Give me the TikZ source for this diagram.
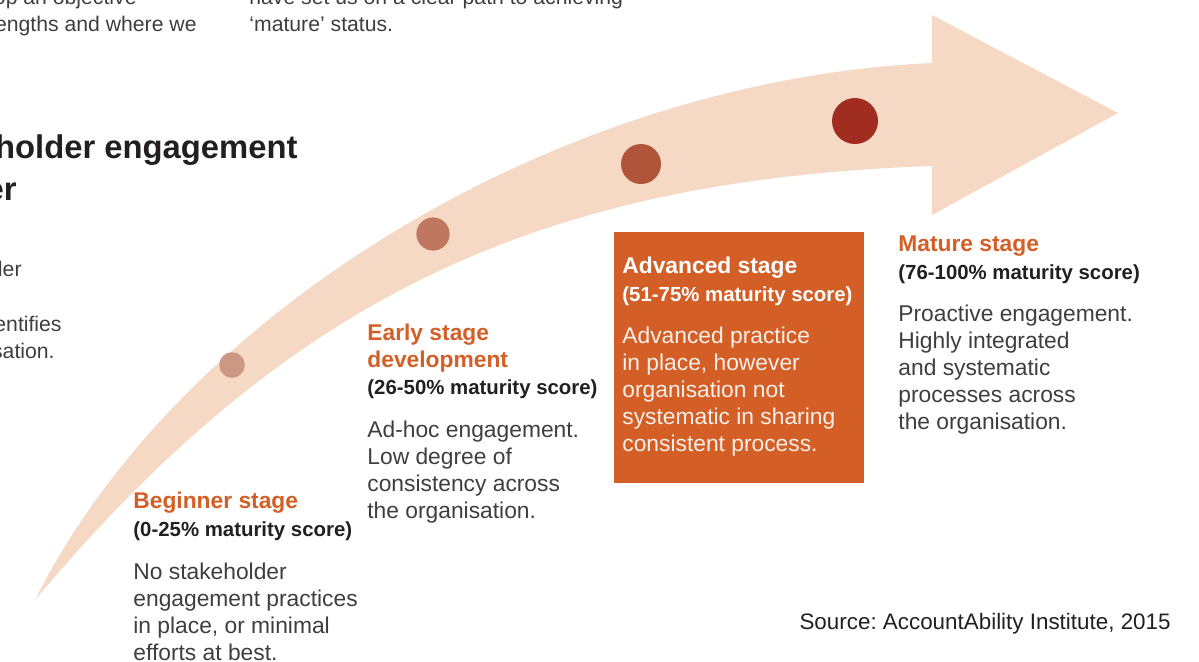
\documentclass[tikz,border=0pt]{standalone}
\usepackage{fontspec}
\setmainfont{Liberation Sans}
\usepackage{xcolor}
\usetikzlibrary{positioning}
\frenchspacing

\definecolor{band}{RGB}{245,217,197}
\definecolor{stageorange}{RGB}{211,95,39}
\definecolor{ink}{RGB}{35,31,32}
\definecolor{bodygray}{RGB}{62,62,62}
\definecolor{dotA}{RGB}{205,152,131}
\definecolor{dotB}{RGB}{192,119,96}
\definecolor{dotC}{RGB}{176,85,58}
\definecolor{dotD}{RGB}{161,44,32}

% 多行文字的 base 是最后一行的基线
\tikzset{
    stagehead/.style={anchor=base west, inner sep=0, align=left, text=stageorange,
        font=\fontsize{11.4}{13.5}\selectfont\bfseries},
    stagescore/.style={anchor=base west, inner sep=0, text=ink,
        font=\fontsize{10.2}{13.5}\selectfont\bfseries},
    stagetext/.style={anchor=base west, inner sep=0, align=left, text=bodygray,
        font=\fontsize{11.4}{13.5}\selectfont},
    sidetext/.style={inner sep=0, text=bodygray, font=\fontsize{10.6}{13.5}\selectfont},
}

\begin{document}
\begin{tikzpicture}[x=0.5pt, y=-0.5pt]
    \useasboundingbox (0,0) rectangle (1199,661);
    \clip (0,0) rectangle (1199,661);

    % 弯曲的箭头
    \fill[band] (35,600) .. controls (180,310) and (560,80) .. (932,63)
        -- (932,15) -- (1118,113) -- (932,215) -- (932,166)
        .. controls (532,180) and (285,302) .. (35,600) -- cycle;

    % 四个阶段的圆点
    \foreach \x/\y/\r/\c in {232/365/6.4/dotA, 433/234/8.3/dotB, 641/164/10/dotC, 855/121/11.5/dotD} {
        \fill[\c] (\x,\y) circle (\r pt);
    }

    % 上方的正文
    \node[sidetext, anchor=base east] (topa) at (137,4) {op an objective};
    \node[sidetext, anchor=base east] (topb) at (197,31) {engths and where we};
    \node[sidetext, anchor=base west] (topc) at (249,4) {have set us on a clear path to achieving};
    \node[sidetext, anchor=base west] (topd) at (249,31) {`mature' status.};

    % 标题
    \node[anchor=base east, inner sep=0, text=ink, font=\fontsize{16.4}{21.5}\selectfont\bfseries] (titlea) at (298,158) {holder engagement};
    \node[anchor=base east, inner sep=0, text=ink, font=\fontsize{16.4}{21.5}\selectfont\bfseries] (titleb) at (17,200) {er};

    % 左侧正文
    \node[sidetext, anchor=base east] (lefta) at (22,276) {der};
    \node[sidetext, anchor=base east] (leftb) at (62,331) {entifies};
    \node[sidetext, anchor=base east] (leftc) at (55,358) {sation.};

    % Beginner
    \node[stagehead] (beghead) at (133,508) {Beginner stage};
    \node[stagescore] (begscore) at (133,536.5) {(0-25\% maturity score)};
    \node[stagetext] (begtext) at (133,660) {No stakeholder\\engagement practices\\in place, or minimal\\efforts at best.};

    % Early
    \node[stagehead] (earlyhead) at (367,367) {Early stage\\development};
    \node[stagescore] (earlyscore) at (367,394) {(26-50\% maturity score)};
    \node[stagetext] (earlytext) at (367,518) {Ad-hoc engagement.\\Low degree of\\consistency across\\the organisation.};

    % Advanced（橙色方框）
    \fill[stageorange] (614,232) rectangle (864,483);
    \node[stagehead, text=white] (advhead) at (622,273.5) {Advanced stage};
    \node[stagescore, text=white] (advscore) at (622,301.5) {(51-75\% maturity score)};
    \node[stagetext, text=white!90!stageorange] (advtext) at (622,451.5) {Advanced practice\\in place, however\\organisation not\\systematic in sharing\\consistent process.};

    % Mature
    \node[stagehead] (mathead) at (898,251.5) {Mature stage};
    \node[stagescore] (matscore) at (898,279.5) {(76-100\% maturity score)};
    \node[stagetext] (mattext) at (898,429.5) {Proactive engagement.\\Highly integrated\\and systematic\\processes across\\the organisation.};

    % 来源
    \node[anchor=base east, inner sep=0, text=ink, font=\fontsize{11.2}{13.5}\selectfont] (source) at (1171,629) {Source: AccountAbility Institute, 2015};
\end{tikzpicture}
\end{document}
